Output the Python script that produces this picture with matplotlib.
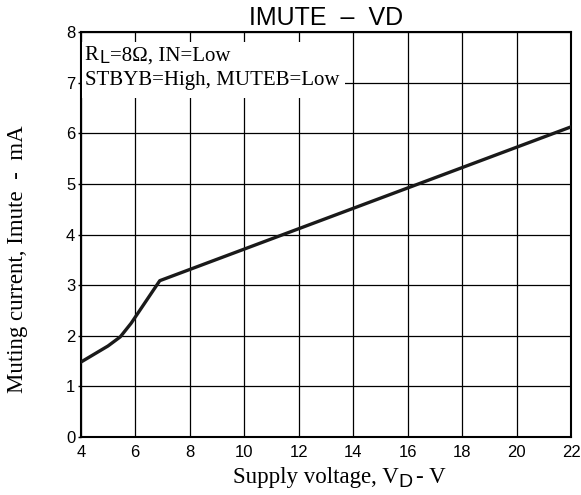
import matplotlib
matplotlib.use("Agg")
import matplotlib.pyplot as plt
from matplotlib.patches import Rectangle
from matplotlib.transforms import offset_copy

supply_voltage = [4.0, 5.0, 5.45, 5.85, 6.9, 22.0]
mute_current = [1.48, 1.8, 1.98, 2.25, 3.09, 6.13]

x_ticks = [4, 6, 8, 10, 12, 14, 16, 18, 20, 22]
y_ticks = [0, 1, 2, 3, 4, 5, 6, 7, 8]

SERIF = 'Liberation Serif'
SANS = 'Liberation Sans'

fig = plt.figure(figsize=(5.81, 4.95), dpi=100)
ax = fig.add_axes([0.139, 0.117, 0.844, 0.818])

ax.plot(supply_voltage, mute_current, color='#1a1a1a', lw=2.4, zorder=4)
ax.set_xlim(4, 22)
ax.set_ylim(0, 8)
ax.set_xticks(x_ticks)
ax.set_yticks(y_ticks)
ax.grid(True, color='black', lw=0.9, zorder=1)
ax.set_axisbelow(True)
for s in ax.spines.values():
    s.set_linewidth(1.5)
ax.tick_params(axis='x', length=0, pad=5.5, labelsize=12)
ax.tick_params(axis='y', length=2.5, width=1, pad=1.5, labelsize=12)
for lab in ax.get_xticklabels() + ax.get_yticklabels():
    lab.set_fontfamily(SANS)

# white area behind the condition text
ax.add_patch(Rectangle((0.003, 0.8375), 0.536, 0.976 - 0.8375, transform=ax.transAxes,
                       facecolor='white', edgecolor='none', zorder=3))

ax.set_title('IMUTE  –  VD', fontsize=18, fontfamily=SANS, pad=5)

ax.set_ylabel('Muting current, Imute  -  mA', fontsize=16.5, fontfamily=SERIF)
ax.yaxis.set_label_coords(-0.108, 0.44)

renderer = fig.canvas.get_renderer()


def compound(base, x, y, parts):
    """parts: (text, family, size, dy_px, gap_px)"""
    texts = []
    for s, fam, size, dy, gap in parts:
        t = fig.text(x, y, s, transform=base, fontfamily=fam, fontsize=size,
                     ha='left', va='baseline', zorder=6)
        texts.append((t, dy, gap))
    cur = 0.0
    for t, dy, gap in texts:
        cur += gap
        w = t.get_window_extent(renderer).width
        t.set_transform(offset_copy(base, x=cur, y=dy, units='dots'))
        cur += w
    return texts


# condition text
compound(ax.transAxes, 0.008, 0.931, [
    ('R', SERIF, 15, 0, 0),
    ('L', SANS, 13, -3, 0.5),
    ('=8Ω, IN=Low', SERIF, 15, 0, 0.5),
])
compound(ax.transAxes, 0.008, 0.869, [
    ('STBYB=High, MUTEB=Low', SERIF, 15, 0, 0),
])

# x label
compound(fig.transFigure, 233 / 581, 12 / 495, [
    ('Supply voltage, V', SERIF, 16.5, 0, 0),
    ('D', SANS, 14, -4, 0),
    ('- V', SERIF, 16.5, 0, 3),
])

fig.savefig('out.png', dpi=100)
